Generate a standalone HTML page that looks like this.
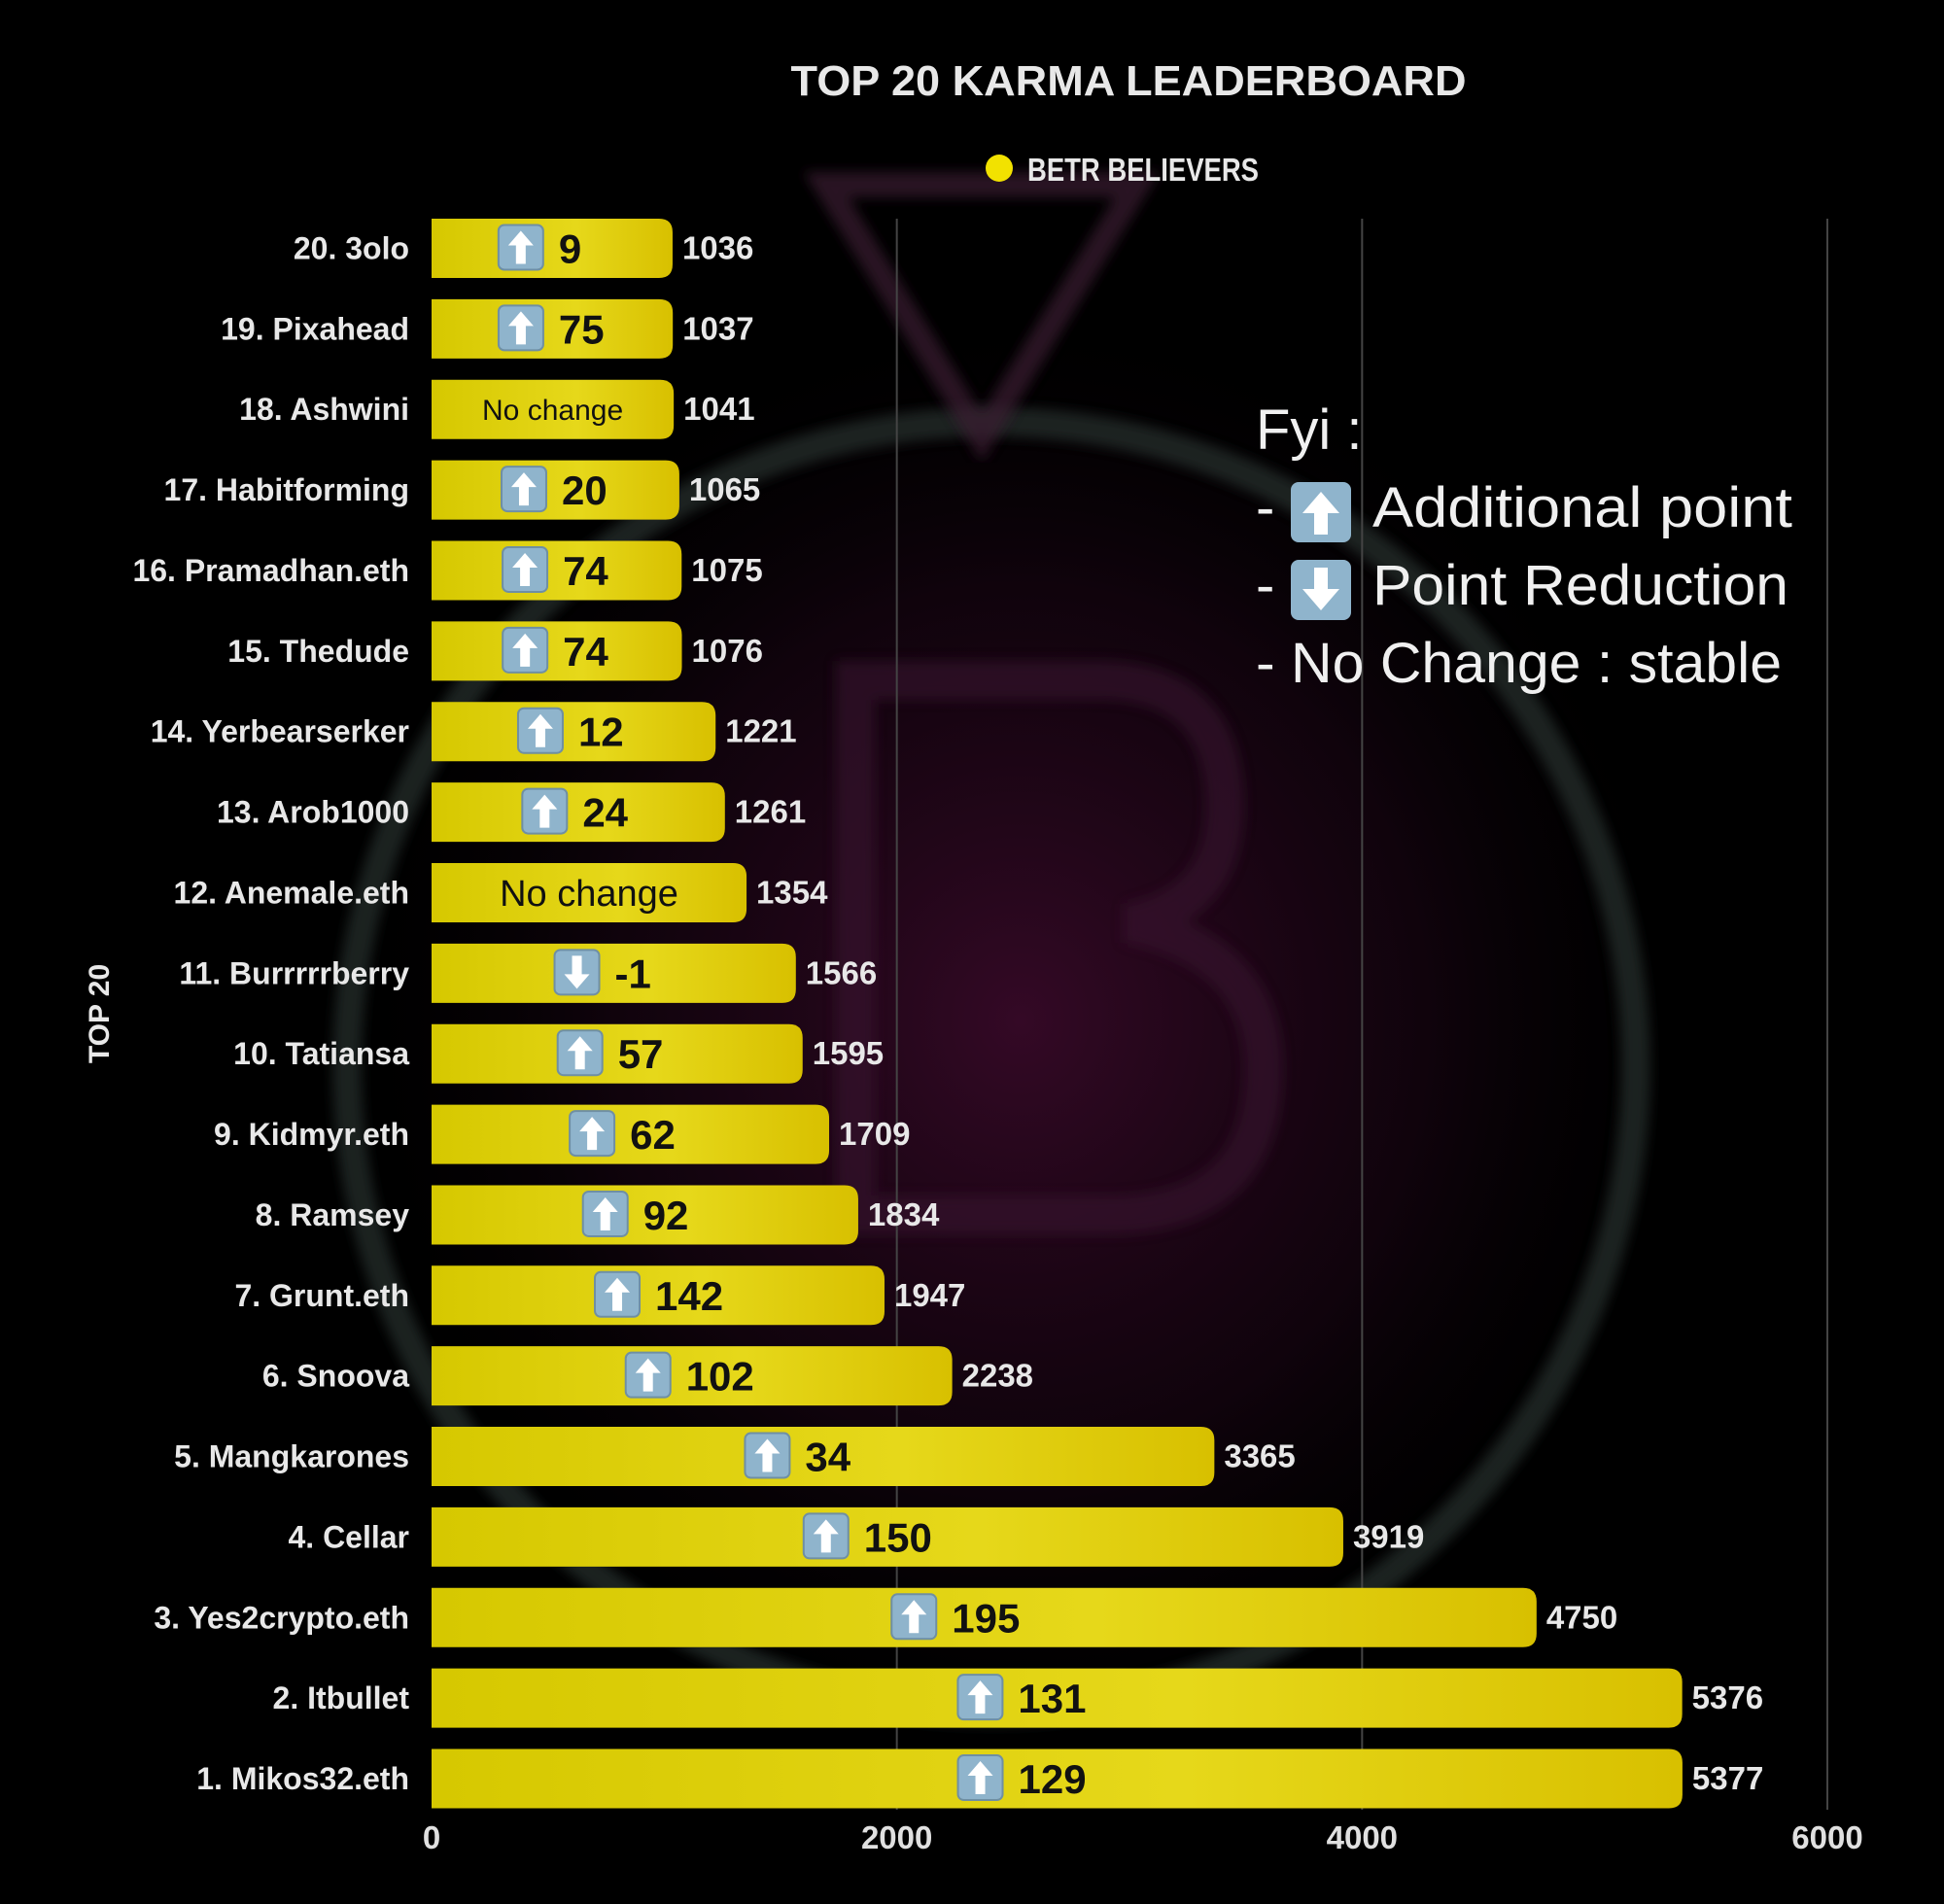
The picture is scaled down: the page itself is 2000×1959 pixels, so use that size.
<!DOCTYPE html>
<html><head><meta charset="utf-8">
<style>
html,body{margin:0;padding:0;background:#000;}
body{width:2000px;height:1954px;overflow:hidden;font-family:"Liberation Sans","DejaVu Sans",sans-serif;}
svg text{font-family:"Liberation Sans","DejaVu Sans",sans-serif;}
</style></head>
<body>
<svg id="chart" width="2000" height="1954" viewBox="0 0 2000 1954" xmlns="http://www.w3.org/2000/svg">
<defs>
<radialGradient id="glow" cx="0.5" cy="0.5" r="0.5">
<stop offset="0" stop-color="#3a0a2a" stop-opacity="0.9"/>
<stop offset="0.6" stop-color="#1a0514" stop-opacity="0.6"/>
<stop offset="1" stop-color="#000" stop-opacity="0"/>
</radialGradient>
<linearGradient id="barGrad" x1="0" y1="0" x2="1" y2="0">
<stop offset="0" stop-color="#d6c800"/>
<stop offset="0.6" stop-color="#e6d81a"/>
<stop offset="1" stop-color="#d8c000"/>
</linearGradient>
<filter id="blur"><feGaussianBlur stdDeviation="6"/></filter>
</defs>
<rect width="2000" height="1954" fill="#000"/>
<g>
<ellipse cx="1050" cy="1050" rx="700" ry="750" fill="url(#glow)"/>
<circle cx="1020" cy="1097" r="663" fill="none" stroke="#2c3532" stroke-width="30" opacity="0.65" filter="url(#blur)"/>
<path d="M850 190 L1170 190 L1010 450 Z" fill="none" stroke="#3a1a30" stroke-width="26" opacity="0.7" filter="url(#blur)"/>
<path d="M880 700 L1130 700 Q1260 700 1260 830 Q1260 930 1160 950 Q1300 980 1300 1100 Q1300 1250 1140 1250 L880 1250 Z" fill="none" stroke="#3a1430" stroke-width="40" opacity="0.55" filter="url(#blur)"/>
</g>
<text x="1161" y="98" text-anchor="middle" fill="#e8e8e8" font-size="44" font-weight="bold" textLength="695" lengthAdjust="spacingAndGlyphs">TOP 20 KARMA LEADERBOARD</text>
<g>
<circle cx="1028" cy="173" r="14" fill="#f2e200"/>
<text x="1057" y="186" fill="#e8e8e8" font-size="33" font-weight="bold" textLength="238" lengthAdjust="spacingAndGlyphs">BETR BELIEVERS</text>
</g>
<text transform="translate(112,1043) rotate(-90)" text-anchor="middle" fill="#e8e8e8" font-size="30" font-weight="bold">TOP 20</text>
<g id="grid"></g>
<g id="bars"></g>
<g id="xticks"></g>
<g fill="#f0f0f0" font-size="58">
<text x="1292" y="462">Fyi :</text>
<text x="1292" y="542">- </text>
<g><rect x="1328" y="496" width="62" height="62" rx="8" fill="#8fb4cc"/><path d="M1359 506 L1378 528 L1366 528 L1366 550 L1352 550 L1352 528 L1340 528 Z" fill="#fff"/></g>
<text x="1412" y="542" textLength="432" lengthAdjust="spacingAndGlyphs">Additional point</text>
<text x="1292" y="622">- </text>
<g><rect x="1328" y="576" width="62" height="62" rx="8" fill="#8fb4cc"/><path d="M1359 628 L1378 606 L1366 606 L1366 584 L1352 584 L1352 606 L1340 606 Z" fill="#fff"/></g>
<text x="1412" y="622" textLength="428" lengthAdjust="spacingAndGlyphs">Point Reduction</text>
<text x="1292" y="702" textLength="541" lengthAdjust="spacingAndGlyphs">- No Change : stable</text>
</g>
</svg>
<script>
const names = ["20. 3olo","19. Pixahead","18. Ashwini","17. Habitforming","16. Pramadhan.eth","15. Thedude","14. Yerbearserker","13. Arob1000","12. Anemale.eth","11. Burrrrrberry","10. Tatiansa","9. Kidmyr.eth","8. Ramsey","7. Grunt.eth","6. Snoova","5. Mangkarones","4. Cellar","3. Yes2crypto.eth","2. Itbullet","1. Mikos32.eth"];
const values = [1036,1037,1041,1065,1075,1076,1221,1261,1354,1566,1595,1709,1834,1947,2238,3365,3919,4750,5376,5377];
const changes = [9,75,null,20,74,74,12,24,null,-1,57,62,92,142,102,34,150,195,131,129];
const xTicks = [0,2000,4000,6000];

const NS = "http://www.w3.org/2000/svg";
const x0 = 444, x1 = 1880, xMax = 6000;
const xs = v => x0 + (v / xMax) * (x1 - x0);
const yTop = 255.5, step = 82.87, barH = 61;
const yc = i => yTop + i * step;
function mk(tag, attrs, parent){const e=document.createElementNS(NS,tag);for(const k in attrs)e.setAttribute(k,attrs[k]);parent.appendChild(e);return e;}

const grid = document.getElementById('grid');
const xt = document.getElementById('xticks');
xTicks.forEach(t=>{
  if(t>0){
    const l = mk('line',{x1:xs(t),x2:xs(t),y1:225,y2:1862,stroke:'#444',"stroke-width":2},grid);
    
    
  }
  const tx = mk('text',{x:xs(t),y:1902,"text-anchor":"middle",fill:"#e0e0e0","font-size":33,"font-weight":"bold"},xt);
  tx.textContent = t;
  
  
});

const bars = document.getElementById('bars');
names.forEach((n,i)=>{
  const c = yc(i), w = xs(values[i]) - x0, y = c - barH/2;
  const g = mk('g',{},bars);
  
  
  const lbl = mk('text',{x:421,y:c+11,"text-anchor":"end",fill:"#e8e8e8","font-size":32,"font-weight":"bold"},g);
  lbl.textContent = n;
  
  
  const r = 14;
  const p = mk('path',{d:`M${x0} ${y} H${x0+w-r} Q${x0+w} ${y} ${x0+w} ${y+r} V${y+barH-r} Q${x0+w} ${y+barH} ${x0+w-r} ${y+barH} H${x0} Z`,fill:"url(#barGrad)"},g);
  
  
  const vl = mk('text',{x:x0+w+10,y:c+11,fill:"#e8e8e8","font-size":33,"font-weight":"bold"},g);
  vl.textContent = values[i];
  
  
  const ch = changes[i];
  if(ch===null){
    const fs = w>250 ? 38 : 30;
    const t = mk('text',{x:x0+w/2,y:c+fs*0.36,"text-anchor":"middle",fill:"#111","font-size":fs},g);
    t.textContent = "No change";
    
    
  } else {
    const iconC = x0 + w/2 - (21 + 0.045*w);
    const bx = iconC - 23, by = c - 24;
    const ic = mk('g',{},g);
    
    
    mk('rect',{x:bx,y:by,width:46,height:46,rx:6,fill:"#8fb4cc",stroke:"#6f8fa3","stroke-width":2},ic);
    const ax = bx+23;
    if(ch>=0) mk('path',{d:`M${ax} ${by+6} L${ax+13} ${by+21} L${ax+5} ${by+21} L${ax+5} ${by+40} L${ax-5} ${by+40} L${ax-5} ${by+21} L${ax-13} ${by+21} Z`,fill:"#fff"},ic);
    else mk('path',{d:`M${ax} ${by+40} L${ax+13} ${by+25} L${ax+5} ${by+25} L${ax+5} ${by+6} L${ax-5} ${by+6} L${ax-5} ${by+25} L${ax-13} ${by+25} Z`,fill:"#fff"},ic);
    const t = mk('text',{x:bx+62,y:c+15,fill:"#111","font-size":42,"font-weight":"bold"},g);
    t.textContent = ch;
    
    
  }
});
</script>
</body></html>
